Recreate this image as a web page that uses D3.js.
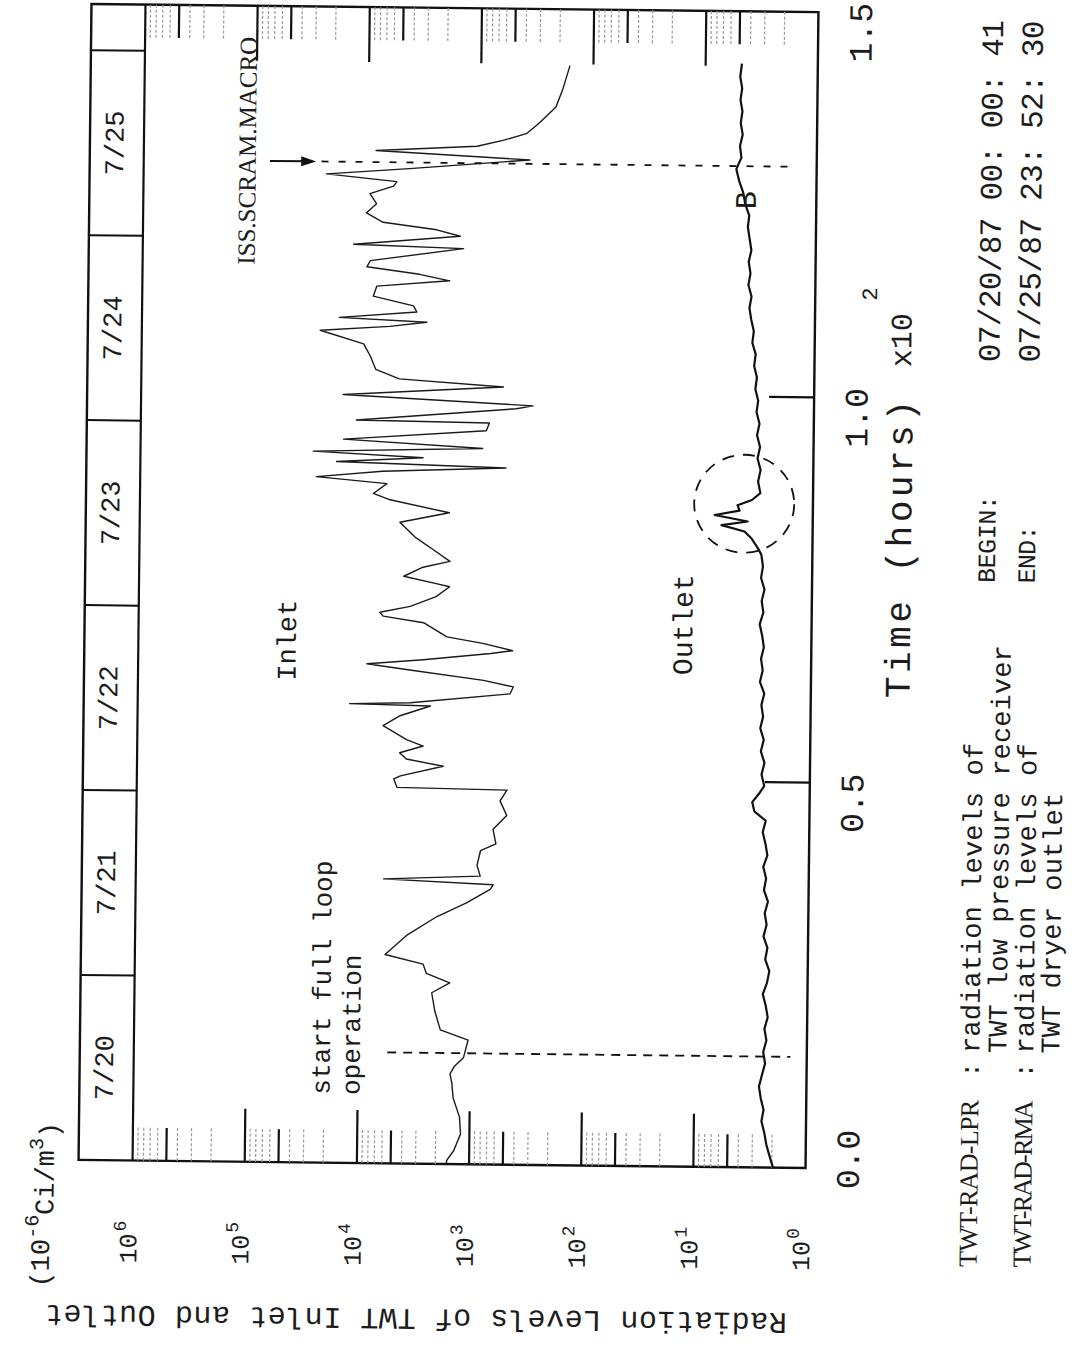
<!DOCTYPE html>
<html>
<head>
<meta charset="utf-8">
<script src="https://cdn.jsdelivr.net/npm/d3@7"></script>
<style>
  body { margin: 0; background: #fff; }
  text { fill: #1c1c1c; }
  .mono { font-family: "Liberation Mono", "DejaVu Sans Mono", monospace; }
  .serif { font-family: "Liberation Serif", "DejaVu Serif", serif; }
</style>
</head>
<body>
<div id="chart"></div>
<script>

// time in hours x10^2, levels in 10^-6 Ci/m^3
var inletTime = [0, 0.005, 0.017, 0.039, 0.061, 0.086, 0.105, 0.117, 0.127, 0.138, 0.161, 0.174, 0.198, 0.222, 0.235,
  0.247, 0.259, 0.271, 0.296, 0.321, 0.339, 0.357, 0.363, 0.369, 0.374, 0.388, 0.407, 0.416, 0.435, 0.453, 0.472,
  0.486, 0.488, 0.499, 0.503, 0.516, 0.525, 0.533, 0.542, 0.550, 0.568, 0.581, 0.594, 0.596, 0.598, 0.611, 0.620,
  0.628, 0.641, 0.648, 0.654, 0.663, 0.667, 0.676, 0.684, 0.702, 0.710, 0.715, 0.723, 0.736, 0.749, 0.753, 0.762,
  0.774, 0.782, 0.794, 0.813, 0.832, 0.845, 0.861, 0.869, 0.882, 0.890, 0.898, 0.904, 0.910, 0.916, 0.923, 0.929,
  0.939, 0.952, 0.962, 0.964, 0.981, 0.985, 0.997, 1.009, 1.018, 1.030, 1.047, 1.063, 1.080, 1.086, 1.092, 1.097,
  1.105, 1.113, 1.125, 1.138, 1.146, 1.154, 1.163, 1.171, 1.188, 1.192, 1.204, 1.212, 1.221, 1.233, 1.245, 1.258,
  1.268, 1.274, 1.283, 1.291, 1.304, 1.314, 1.321, 1.329, 1.338, 1.353, 1.373, 1.397, 1.427]
var inletLevel = [1600, 1580, 1380, 1200, 1230, 1410, 1450, 1510, 1380, 1150, 1050, 1860, 2090, 2240, 1550,
  2510, 2690, 5890, 3800, 2040, 1120, 690, 650, 6170, 850, 910, 850, 620, 660, 500, 575,
  500, 4790, 5130, 4470, 1860, 3980, 4570, 2820, 3980, 6460, 4570, 2450, 12900, 3720, 480, 450,
  830, 4070, 9120, 2880, 720, 460, 850, 1780, 2880, 6610, 7080, 3800, 2240, 1700, 2240, 4370,
  2950, 1700, 2240, 3500, 4790, 1740, 5890, 8320, 6310, 26900, 6920, 550, 17800, 3020, 28800, 890,
  15500, 830, 780, 12000, 450, 320, 15800, 590, 5010, 8130, 9120, 10500, 25700, 6170, 2880, 17400,
  3550, 3800, 8710, 8130, 1820, 3390, 10000, 9330, 1380, 13200, 1480, 2400, 7240, 10200, 8320, 9550,
  5890, 5500, 23400, 4270, 360, 8510, 1070, 630, 390, 295, 214, 186, 162]

var outletTime = [0, 0.015, 0.030, 0.045, 0.060, 0.075, 0.090, 0.105, 0.120, 0.135, 0.150, 0.165, 0.180, 0.195,
  0.210, 0.225, 0.240, 0.255, 0.270, 0.285, 0.300, 0.315, 0.330, 0.345, 0.360, 0.375, 0.390, 0.405, 0.420, 0.435,
  0.450, 0.462, 0.474, 0.486, 0.495, 0.510, 0.525, 0.540, 0.555, 0.570, 0.585, 0.600, 0.615, 0.630, 0.645, 0.660,
  0.675, 0.690, 0.705, 0.720, 0.735, 0.750, 0.765, 0.780, 0.795, 0.803, 0.816, 0.825, 0.833, 0.838, 0.846, 0.852,
  0.859, 0.866, 0.875, 0.890, 0.905, 0.920, 0.935, 0.950, 0.965, 0.980, 0.995, 1.010, 1.025, 1.040, 1.055, 1.070,
  1.085, 1.100, 1.115, 1.130, 1.145, 1.160, 1.175, 1.190, 1.205, 1.220, 1.235, 1.250, 1.265, 1.280, 1.295, 1.310,
  1.325, 1.340, 1.355, 1.370, 1.385, 1.400, 1.415, 1.432]
var outletLevel = [1.95, 2.10, 2.25, 2.35, 2.50, 2.40, 2.55, 2.65, 2.50, 2.35, 2.45, 2.30, 2.40, 2.25,
  2.35, 2.50, 2.30, 2.20, 2.40, 2.30, 2.50, 2.35, 2.45, 2.30, 2.50, 2.40, 2.55, 2.35, 2.45, 2.60,
  2.45, 3.10, 3.25, 2.80, 2.55, 2.70, 2.55, 2.75, 2.60, 2.80, 2.65, 2.75, 2.60, 2.85, 2.70, 2.80,
  2.65, 2.75, 2.90, 2.70, 2.80, 2.65, 2.85, 2.75, 2.85, 3.05, 3.50, 4.05, 6.50, 3.80, 7.50, 4.50,
  4.70, 3.50, 2.95, 3.10, 2.95, 3.15, 3.00, 3.20, 3.05, 3.25, 3.15, 3.35, 3.25, 3.45, 3.35, 3.60,
  3.50, 3.70, 3.85, 3.70, 3.95, 3.80, 3.95, 3.75, 3.90, 4.05, 3.95, 4.30, 4.50, 4.90, 5.20, 4.70,
  4.85, 4.60, 4.80, 4.65, 4.85, 4.70, 4.90, 4.75]

var decades = [1, 10, 100, 1000, 10000, 100000, 1000000]
var timeTicks = [0, 0.5, 1.0, 1.5]
var dayLabels = ["7/20", "7/21", "7/22", "7/23", "7/24", "7/25"]
var dayStarts = [0, 0.24, 0.48, 0.72, 0.96, 1.20]
var stripEnd = 1.44
var fullLoopTime = 0.144
var scramTime = 1.299

var width = 1087, height = 1346
var frameL = 85, frameR = 812, frameT = 8, frameB = 1164, stripX = 139

// log level runs across the page, time runs up the page (chart turned on its side)
var x = d3.scaleLog().domain([1, 1e6]).range([frameR, stripX])
var y = d3.scaleLinear().domain([0, 1.5]).range([frameB, frameT])

var svg = d3.select("#chart").append("svg")
    .attr("width", width)
    .attr("height", height)
svg.append("rect").attr("width", width).attr("height", height).attr("fill", "#fff")

// the scanned sheet sits slightly tilted
var g = svg.append("g").attr("transform", "rotate(0.64,448,586)")

function vtext(px, py, str, size, cls, anchor) {
  return g.append("text")
    .attr("class", cls || "mono")
    .attr("transform", "translate(" + px + "," + py + ") rotate(-90)")
    .attr("text-anchor", anchor || "middle")
    .attr("dy", "0.35em")
    .style("font-size", size + "px")
    .text(str)
}

// frame and date strip
g.append("rect")
    .attr("x", frameL).attr("y", frameT)
    .attr("width", frameR - frameL).attr("height", frameB - frameT)
    .attr("fill", "none").attr("stroke", "#111").attr("stroke-width", 2.4)
g.append("line")
    .attr("x1", stripX).attr("x2", stripX).attr("y1", frameT).attr("y2", frameB)
    .attr("stroke", "#111").attr("stroke-width", 2.2)

g.selectAll(".daydiv")
  .data(dayStarts.slice(1).concat([stripEnd]))
  .enter().append("line")
    .attr("x1", frameL).attr("x2", stripX)
    .attr("y1", function(d){ return y(d) }).attr("y2", function(d){ return y(d) })
    .attr("stroke", "#111").attr("stroke-width", 2)

dayLabels.forEach(function(lab, i){
  vtext((frameL + stripX) / 2 - 3, y(dayStarts[i] + 0.12), lab, 27)
})

// log ticks on both long edges
var minor = []
decades.slice(0, 6).forEach(function(d){
  for (var m = 2; m <= 9; m++) minor.push({v: d * m, m: m})
})
minor.forEach(function(d){
  var bold = d.m == 5
  ;[[frameB, frameB - 33], [frameT, frameT + 33]].forEach(function(e){
    g.append("line")
      .attr("x1", x(d.v)).attr("x2", x(d.v))
      .attr("y1", e[0]).attr("y2", e[1])
      .attr("stroke", bold ? "#111" : "#9a9a9a")
      .attr("stroke-width", bold ? 2.2 : 1.2)
      .attr("stroke-dasharray", bold ? null : "3,2")
  })
})
decades.slice(1, 6).forEach(function(d){
  g.append("line").attr("x1", x(d)).attr("x2", x(d)).attr("y1", frameB).attr("y2", frameB - 53)
    .attr("stroke", "#111").attr("stroke-width", 2.2)
  g.append("line").attr("x1", x(d)).attr("x2", x(d)).attr("y1", frameT).attr("y2", frameT + 55)
    .attr("stroke", "#111").attr("stroke-width", 2.2)
})

// decade labels
decades.forEach(function(d){
  var e = Math.round(Math.log10(d))
  var t = g.append("text")
    .attr("class", "mono")
    .attr("transform", "translate(" + (x(d) - 4) + "," + 1267 + ") rotate(-90)")
    .attr("dy", "0.35em")
    .style("font-size", "25px")
  t.append("tspan").text("10")
  t.append("tspan").attr("dy", "-0.6em").attr("dx", "2").style("font-size", "18px").text(e)
})

// time ticks on the right edge
timeTicks.slice(1, 3).forEach(function(t){
  g.append("line").attr("x1", frameR).attr("x2", frameR - 45).attr("y1", y(t)).attr("y2", y(t))
    .attr("stroke", "#111").attr("stroke-width", 2.2)
})
timeTicks.forEach(function(t){
  vtext(854, Math.min(y(t) + 20, 1155), d3.format(".1f")(t), 33)
})

// series
var line = d3.line()
    .x(function(d){ return x(d.v) })
    .y(function(d){ return y(d.t) })

var inlet = inletTime.map(function(t, i){ return {t: t, v: inletLevel[i]} })
var outlet = outletTime.map(function(t, i){ return {t: t, v: outletLevel[i]} })

g.append("path").datum(inlet)
    .attr("d", line)
    .attr("fill", "none").attr("stroke", "#1a1a1a").attr("stroke-width", 1.4)
    .attr("stroke-linejoin", "round")
g.append("path").datum(outlet)
    .attr("d", line)
    .attr("fill", "none").attr("stroke", "#111").attr("stroke-width", 2.2)
    .attr("stroke-linejoin", "round")

// start full loop operation
g.append("line")
    .attr("x1", x(5500)).attr("x2", x(1.4))
    .attr("y1", y(fullLoopTime)).attr("y2", y(fullLoopTime))
    .attr("stroke", "#111").attr("stroke-width", 1.8).attr("stroke-dasharray", "9,7")
vtext(326, 1096, "start full loop", 26, "mono", "start")
vtext(356, 1096, "operation", 26, "mono", "start")

// scram marker
var sy = y(scramTime)
g.append("line")
    .attr("x1", x(75000)).attr("x2", x(30000) - 2)
    .attr("y1", sy).attr("y2", sy)
    .attr("stroke", "#111").attr("stroke-width", 2)
g.append("path")
    .attr("d", "M" + x(29000) + "," + sy + "L" + (x(29000) - 15) + "," + (sy - 5) + "L" + (x(29000) - 15) + "," + (sy + 5) + "Z")
    .attr("fill", "#111")
g.append("line")
    .attr("x1", x(26000)).attr("x2", x(1.5))
    .attr("y1", sy).attr("y2", sy)
    .attr("stroke", "#111").attr("stroke-width", 1.8).attr("stroke-dasharray", "7,10")
vtext(251, 267, "ISS.SCRAM.MACRO", 25, "serif", "start")
  .attr("dy", null).attr("textLength", 228).attr("lengthAdjust", "spacingAndGlyphs")
vtext(x(4.3), y(1.255), "B", 30)

// circled outlet excursion
g.append("ellipse")
    .attr("cx", x(4.1)).attr("cy", y(0.861))
    .attr("rx", 50).attr("ry", 49)
    .attr("fill", "none").attr("stroke", "#111").attr("stroke-width", 1.8)
    .attr("stroke-dasharray", "12,9")

vtext(287, 642, "Inlet", 27)
vtext(683, 622, "Outlet", 28)

// axis titles
vtext(898, 693, "Time (hours)", 36, "mono", "start").attr("textLength", 298).attr("lengthAdjust", "spacing")
vtext(898, 362, "x10", 30, "mono", "start").attr("textLength", 54)
vtext(866, 296, "2", 22, "mono", "start")

g.append("text")
    .attr("class", "mono")
    .attr("transform", "translate(424,1320) rotate(180)")
    .attr("text-anchor", "middle").attr("dy", "0.35em")
    .attr("textLength", 742).attr("lengthAdjust", "spacing")
    .style("font-size", "30px")
    .text("Radiation Levels of TWT Inlet and Outlet")

var unit = g.append("text")
    .attr("class", "mono")
    .attr("transform", "translate(47,1292) rotate(-90)")
    .attr("dy", "0.35em")
    .style("font-size", "27px")
unit.append("tspan").text("(10")
unit.append("tspan").attr("dy", "-0.55em").style("font-size", "20px").text("-6")
unit.append("tspan").attr("dy", "0.55em").text("Ci/m")
unit.append("tspan").attr("dy", "-0.55em").style("font-size", "20px").text("3")
unit.append("tspan").attr("dy", "0.55em").text(")")

// begin / end stamps
vtext(986, 577, "BEGIN:", 25, "mono", "start").attr("textLength", 88)
vtext(1026, 577, "END:", 25, "mono", "start").attr("textLength", 58)
vtext(986, 356, "07/20/87 00: 00: 41", 31, "mono", "start").attr("textLength", 342)
vtext(1026, 356, "07/25/87 23: 52: 30", 31, "mono", "start").attr("textLength", 342)

// legend
vtext(975, 1261, "TWT-RAD-LPR", 26, "serif", "start").attr("textLength", 167)
vtext(975, 1064, ":", 26)
vtext(975, 1047, "radiation levels of", 27, "mono", "start").attr("textLength", 310)
vtext(1002, 1047, "TWT low pressure receiver", 27, "mono", "start").attr("textLength", 408)
vtext(1029, 1261, "TWT-RAD-RMA", 26, "serif", "start").attr("textLength", 167)
vtext(1029, 1064, ":", 26)
vtext(1029, 1047, "radiation levels of", 27, "mono", "start").attr("textLength", 310)
vtext(1055, 1047, "TWT dryer outlet", 27, "mono", "start").attr("textLength", 261)

</script>
</body>
</html>
